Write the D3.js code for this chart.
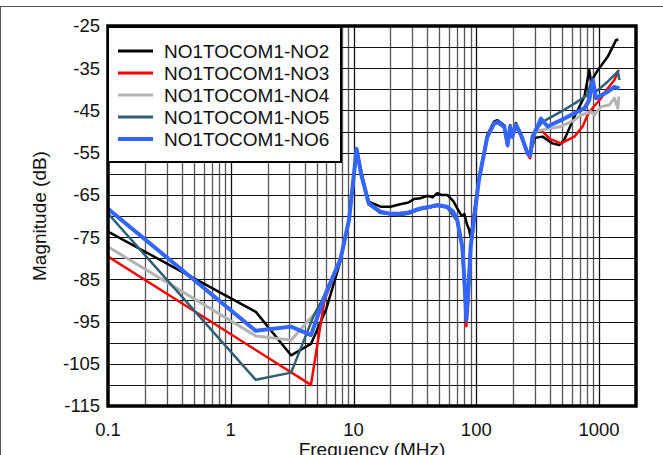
<!DOCTYPE html>
<html>
<head>
<meta charset="utf-8">
<script src="https://cdn.jsdelivr.net/npm/d3@7"></script>
<style>
  body { margin: 0; background: #fff; }
  svg { display: block; font-family: "Liberation Sans", Arial, sans-serif; }
</style>
</head>
<body>
<div id="graph1"></div>
<script>
// series names and colours
var seriesNames = ["NO1TOCOM1-NO2", "NO1TOCOM1-NO3", "NO1TOCOM1-NO4", "NO1TOCOM1-NO5", "NO1TOCOM1-NO6"];
var seriesColors = ["#000000", "#ff0000", "#b3b3b3", "#2e5f74", "#3366ff"];

// tick labels
var yTicks = [-115, -105, -95, -85, -75, -65, -55, -45, -35, -25];
var xTicks = [0.1, 1, 10, 100, 1000];
var xTickLabels = ["0.1", "1", "10", "100", "1000"];

// [frequency MHz, magnitude dB]
var no2 = [[0.1,-73.7],[1.6,-92.7],[3.1,-103],[4.5,-100.3],[6,-92],[7.8,-80.8],[9.2,-71],[10.6,-54.3],[12,-61.5],[13.3,-66.6],[16.6,-67.8],[20,-67.8],[24,-67.2],[28,-66.8],[31,-66],[35,-65.8],[40,-65.2],[44,-65.6],[48,-64.6],[52,-65],[58,-65],[65,-66.5],[70,-68.2],[76,-70],[80,-69.5],[84,-72],[87,-73],[90,-75],[105,-61],[123,-50.8],[140,-47.6],[149,-47.3],[169,-48.5],[180,-53],[189,-48.5],[197,-51],[210,-48],[231,-50.5],[262,-55],[275,-55.3],[300,-51.5],[347,-51.2],[417,-52.8],[473,-53.2],[520,-52],[630,-46.5],[760,-41.7],[833,-35.4],[860,-38.2],[980,-35.4],[1175,-32.3],[1380,-28.3],[1436,-28.2]];
var no3 = [[0.1,-79.6],[4.5,-110],[5.8,-89.9],[7.8,-80.5],[9.2,-71],[10.6,-54.3],[12,-62],[13.3,-67.2],[16.6,-69.2],[24,-69.6],[35,-68.4],[48,-67.6],[58,-68],[70,-71.2],[77,-78],[81,-90],[83,-96.1],[86,-90],[90,-78],[105,-61.5],[123,-51.5],[140,-48.3],[149,-48],[169,-49],[180,-53.5],[189,-49],[197,-51.5],[210,-48.7],[231,-51],[262,-55.5],[275,-56.3],[287,-51.5],[316,-49.5],[347,-50],[400,-51.8],[490,-52.8],[630,-51.2],[735,-48.8],[807,-46.1],[860,-44.9],[1037,-42.1],[1175,-39.8],[1333,-37.8],[1446,-35.4]];
var no4 = [[0.1,-77.3],[1.6,-98.4],[3.1,-99.4],[5.4,-91.5],[7.8,-80.5],[9.2,-71],[10.6,-54.3],[12,-62],[13.3,-67.2],[16.6,-69.2],[24,-69.4],[35,-68.4],[48,-67.5],[58,-67.9],[70,-71],[77,-77.5],[81,-88],[83,-93],[86,-88],[90,-77.5],[105,-61.5],[123,-51.3],[140,-48.2],[149,-48],[169,-49],[180,-53.3],[189,-49],[197,-51.3],[210,-48.6],[231,-50.9],[262,-55.3],[275,-55.7],[300,-50],[347,-49.6],[490,-48.8],[630,-47.3],[713,-46.1],[860,-45.3],[913,-46.1],[1037,-44.1],[1213,-43.7],[1333,-42.1],[1422,-44.5],[1446,-41.7]];
var no5 = [[0.1,-69.4],[1.6,-108.8],[3.1,-107.1],[4.7,-93.9],[6.5,-86],[7.8,-80.5],[9.2,-71],[10.6,-54.3],[12,-62],[13.3,-67.2],[16.6,-69.3],[24,-69.8],[28,-69.5],[35,-68.4],[48,-67.6],[58,-68],[70,-71.2],[77,-77.5],[81,-88],[83,-91],[86,-88],[90,-77.5],[105,-61.5],[123,-51.3],[140,-48.1],[149,-47.9],[169,-49],[180,-53.3],[189,-49],[197,-51.3],[210,-48.5],[231,-50.8],[262,-55.2],[275,-55.5],[300,-50],[347,-47.7],[490,-45.3],[668,-42.9],[807,-41.3],[860,-38.2],[913,-40.9],[1175,-38.2],[1422,-35.8],[1466,-37.8]];
var no6 = [[0.1,-68.3],[1.6,-97.2],[3.1,-96.2],[4.5,-98.2],[6,-88],[7.8,-80.4],[9.2,-70.9],[10.6,-54.1],[11.5,-60],[13.3,-67],[16.6,-69],[20,-69.5],[24,-69.4],[28,-69.2],[35,-68.2],[42,-67.8],[48,-67.4],[58,-67.8],[65,-69],[70,-71],[77,-77.3],[81,-88],[83,-94.6],[86,-88],[90,-77.3],[105,-61.5],[123,-51.2],[140,-48],[149,-47.7],[169,-48.8],[180,-53.2],[189,-48.8],[197,-51.2],[210,-48.4],[231,-50.8],[262,-55.2],[275,-55.6],[287,-51.2],[316,-48.8],[336,-46.9],[381,-48.8],[490,-47.3],[630,-45.7],[760,-44.5],[833,-42.5],[890,-37.8],[945,-42.1],[1175,-40.6],[1333,-39.4],[1466,-39.8]];

var allSeries = [no2, no3, no4, no5, no6];
var lineWidths = [2.5, 2.5, 3, 2.5, 4];

drawGraph1(663, 455);

function drawGraph1(w, h){
  var svg = d3.select("#graph1").append("svg")
      .attr("width", w)
      .attr("height", h);

  var left = 108, right = 636, top = 26, bottom = 406;

  var x = d3.scaleLog().domain([0.1, 2000]).range([left, right]);
  var y = d3.scaleLinear().domain([-115, -25]).range([bottom, top]);

  // outer frame
  svg.append("rect")
      .attr("x", 0.5).attr("y", 6.5)
      .attr("width", w + 10).attr("height", h + 10)
      .attr("fill", "none")
      .attr("stroke", "#555")
      .attr("stroke-width", 1);

  svg.append("defs").append("clipPath").attr("id", "clip")
    .append("rect")
      .attr("x", left).attr("y", top)
      .attr("width", right - left).attr("height", bottom - top);

  // vertical grid (log minor lines)
  var vLines = [];
  [0.1, 1, 10, 100, 1000].forEach(function(dec){
    for (var k = 1; k <= 9; k++) {
      var f = dec * k;
      if (f > 0.1 && f < 2000) vLines.push(f);
    }
  });
  svg.append("g")
    .selectAll("line")
    .data(vLines)
    .enter().append("line")
      .attr("x1", function(d){ return Math.round(x(d)) + 0.5; })
      .attr("x2", function(d){ return Math.round(x(d)) + 0.5; })
      .attr("y1", top).attr("y2", bottom)
      .attr("stroke", function(d){ return xTicks.indexOf(d) >= 0 ? "#111" : "#555"; })
      .attr("stroke-width", 1.3);

  // horizontal grid every 5 dB
  svg.append("g")
    .selectAll("line")
    .data(d3.range(-110, -25, 5))
    .enter().append("line")
      .attr("x1", left).attr("x2", right)
      .attr("y1", function(d){ return Math.round(y(d)) + 0.5; })
      .attr("y2", function(d){ return Math.round(y(d)) + 0.5; })
      .attr("stroke", "#111")
      .attr("stroke-width", 1);

  // curves
  var line = d3.line()
      .x(function(d){ return x(d[0]); })
      .y(function(d){ return y(d[1]); });

  svg.append("g")
      .attr("clip-path", "url(#clip)")
    .selectAll("path")
    .data(allSeries)
    .enter().append("path")
      .attr("d", line)
      .attr("fill", "none")
      .attr("stroke", function(d, i){ return seriesColors[i]; })
      .attr("stroke-width", function(d, i){ return lineWidths[i]; })
      .attr("stroke-linejoin", "round");

  // plot frame
  svg.append("rect")
      .attr("x", left).attr("y", top)
      .attr("width", right - left).attr("height", bottom - top)
      .attr("fill", "none")
      .attr("stroke", "#000")
      .attr("stroke-width", 3.5);

  // y tick labels
  svg.append("g")
    .selectAll("text")
    .data(yTicks)
    .enter().append("text")
      .attr("x", 100)
      .attr("y", function(d){ return y(d); })
      .attr("dy", "0.35em")
      .attr("text-anchor", "end")
      .attr("font-size", "18.5px")
      .attr("fill", "#111")
      .text(function(d){ return d; });

  // x tick labels
  svg.append("g")
    .selectAll("text")
    .data(xTicks)
    .enter().append("text")
      .attr("x", function(d){ return x(d); })
      .attr("y", 436)
      .attr("text-anchor", "middle")
      .attr("font-size", "18.5px")
      .attr("fill", "#111")
      .text(function(d, i){ return xTickLabels[i]; });

  svg.append("text")
      .attr("x", (left + right) / 2)
      .attr("y", 456)
      .attr("text-anchor", "middle")
      .attr("font-size", "19px")
      .attr("fill", "#111")
      .text("Frequency (MHz)");

  svg.append("text")
      .attr("transform", "translate(46," + ((top + bottom) / 2) + ") rotate(-90)")
      .attr("text-anchor", "middle")
      .attr("font-size", "19px")
      .attr("fill", "#111")
      .text("Magnitude (dB)");

  // legend
  var legend = svg.append("g").attr("class", "legend");
  legend.append("rect")
      .attr("x", 108).attr("y", 27)
      .attr("width", 233).attr("height", 135)
      .attr("fill", "#fff")
      .attr("stroke", "#000")
      .attr("stroke-width", 2);

  var items = legend.selectAll("g.item")
      .data(seriesNames)
      .enter().append("g")
      .attr("class", "item")
      .attr("transform", function(d, i){ return "translate(0," + (51 + i * 22) + ")"; });

  items.append("line")
      .attr("x1", 118).attr("x2", 153)
      .attr("y1", 0).attr("y2", 0)
      .attr("stroke", function(d, i){ return seriesColors[i]; })
      .attr("stroke-width", function(d, i){ return i == 4 ? 4 : 3; });

  items.append("text")
      .attr("x", 164)
      .attr("y", 0)
      .attr("dy", "0.35em")
      .attr("font-size", "19px")
      .attr("fill", "#111")
      .text(function(d){ return d; });
}
</script>
</body>
</html>
